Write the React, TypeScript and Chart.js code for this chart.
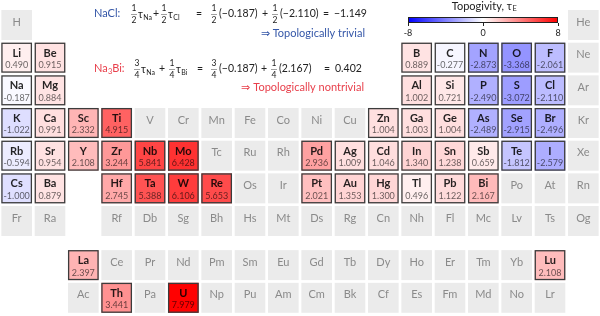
import React, { useEffect, useRef } from "react";
import { Chart, registerables } from "chart.js";

Chart.register(...registerables);

// Periodic table layout: 18 slots per row, "-" = empty slot
const tableRows = [
  "H - - - - - - - - - - - - - - - - He",
  "Li Be - - - - - - - - - - B C N O F Ne",
  "Na Mg - - - - - - - - - - Al Si P S Cl Ar",
  "K Ca Sc Ti V Cr Mn Fe Co Ni Cu Zn Ga Ge As Se Br Kr",
  "Rb Sr Y Zr Nb Mo Tc Ru Rh Pd Ag Cd In Sn Sb Te I Xe",
  "Cs Ba - Hf Ta W Re Os Ir Pt Au Hg Tl Pb Bi Po At Rn",
  "Fr Ra - Rf Db Sg Bh Hs Mt Ds Rg Cn Nh Fl Mc Lv Ts Og",
  "- - La Ce Pr Nd Pm Sm Eu Gd Tb Dy Ho Er Tm Yb Lu -",
  "- - Ac Th Pa U Np Pu Am Cm Bk Cf Es Fm Md No Lr -",
];

const measuredSymbols = [
  "Li", "Be", "B", "C", "N", "O", "F",
  "Na", "Mg", "Al", "Si", "P", "S", "Cl",
  "K", "Ca", "Sc", "Ti", "Zn", "Ga", "Ge", "As", "Se", "Br",
  "Rb", "Sr", "Y", "Zr", "Nb", "Mo", "Pd", "Ag", "Cd", "In", "Sn", "Sb", "Te", "I",
  "Cs", "Ba", "Hf", "Ta", "W", "Re", "Pt", "Au", "Hg", "Tl", "Pb", "Bi",
  "La", "Lu", "Th", "U",
];

const topogivityValues = [
  0.49, 0.915, 0.889, -0.277, -2.873, -3.368, -2.061,
  -0.187, 0.884, 1.002, 0.721, -2.49, -3.072, -2.11,
  -1.022, 0.991, 2.332, 4.915, 1.004, 1.003, 1.004, -2.489, -2.915, -2.496,
  -0.594, 0.954, 2.108, 3.244, 5.841, 6.428, 2.936, 1.009, 1.046, 1.34, 1.238, 0.659, -1.812, -2.579,
  -1.0, 0.879, 2.745, 5.388, 6.106, 5.653, 2.021, 1.353, 1.3, 0.496, 1.122, 2.167,
  2.397, 2.108, 3.441, 7.979,
];

const colorbarTicks = [-8, 0, 8];
const colorMin = -8;
const colorMax = 8;

const FONT = "Lato, 'Noto Sans', sans-serif";
const BLUE_TXT = "#3557a8";
const RED_TXT = "#e8404c";
const FSIZE = 10.5;

function bwr(v: number): string {
  const s = Math.max(-1, Math.min(1, v / colorMax));
  if (s >= 0) {
    const g = Math.round(255 * (1 - s));
    return `rgb(255,${g},${g})`;
  }
  const r = Math.round(255 * (1 + s));
  return `rgb(${r},${r},255)`;
}

type Cell = { symbol: string; group: number; row: number; value: number | null };

function buildCells(): Cell[] {
  const cells: Cell[] = [];
  tableRows.forEach((line, ri) => {
    line.split(" ").forEach((sym, gi) => {
      if (sym === "-") return;
      const idx = measuredSymbols.indexOf(sym);
      cells.push({
        symbol: sym,
        group: gi + 1,
        row: ri + 1,
        value: idx >= 0 ? topogivityValues[idx] : null,
      });
    });
  });
  return cells;
}

function rowToY(row: number) {
  return row <= 7 ? row : row + 0.35;
}

function drawTau(ctx: CanvasRenderingContext2D, x: number, y: number, sub: string) {
  ctx.font = `${FSIZE}px ${FONT}`;
  ctx.textAlign = "left";
  ctx.textBaseline = "middle";
  ctx.fillText("τ", x, y + 1);
  const w = ctx.measureText("τ").width;
  ctx.font = `7px ${FONT}`;
  ctx.fillText(sub, x + w + 0.3, y + 3.5);
}

function drawFrac(ctx: CanvasRenderingContext2D, cx: number, cy: number, n: string, d: string) {
  ctx.font = `8.5px ${FONT}`;
  ctx.textAlign = "center";
  ctx.textBaseline = "middle";
  ctx.fillText(n, cx, cy - 5.5);
  ctx.fillText(d, cx, cy + 6);
  ctx.save();
  ctx.lineWidth = 0.7;
  ctx.strokeStyle = "#777";
  ctx.beginPath();
  ctx.moveTo(cx - 3, cy + 0.5);
  ctx.lineTo(cx + 3, cy + 0.5);
  ctx.stroke();
  ctx.restore();
}

function drawText(ctx: CanvasRenderingContext2D, s: string, x: number, y: number, align: CanvasTextAlign = "left", size = FSIZE) {
  ctx.font = `${size}px ${FONT}`;
  ctx.textAlign = align;
  ctx.textBaseline = "middle";
  ctx.fillText(s, x, y);
}

type Tok =
  | { t: "text"; s: string; x: number }
  | { t: "frac"; n: string; d: string; x: number }
  | { t: "tau"; sub: string; x: number };

const nacLine: Tok[] = [
  { t: "frac", n: "1", d: "2", x: 134 },
  { t: "tau", sub: "Na", x: 138 },
  { t: "text", s: "+", x: 153 },
  { t: "frac", n: "1", d: "2", x: 164 },
  { t: "tau", sub: "Cl", x: 168 },
  { t: "text", s: "=", x: 196 },
  { t: "frac", n: "1", d: "2", x: 214 },
  { t: "text", s: "(−0.187)", x: 219 },
  { t: "text", s: "+", x: 262 },
  { t: "frac", n: "1", d: "2", x: 275 },
  { t: "text", s: "(−2.110)", x: 280 },
  { t: "text", s: "=", x: 323 },
  { t: "text", s: "−1.149", x: 334 },
];

const nabLine: Tok[] = [
  { t: "frac", n: "3", d: "4", x: 137 },
  { t: "tau", sub: "Na", x: 141 },
  { t: "text", s: "+", x: 159 },
  { t: "frac", n: "1", d: "4", x: 172 },
  { t: "tau", sub: "Bi", x: 176 },
  { t: "text", s: "=", x: 197 },
  { t: "frac", n: "3", d: "4", x: 214 },
  { t: "text", s: "(−0.187)", x: 219 },
  { t: "text", s: "+", x: 261 },
  { t: "frac", n: "1", d: "4", x: 274 },
  { t: "text", s: "(2.167)", x: 279 },
  { t: "text", s: "=", x: 324 },
  { t: "text", s: "0.402", x: 335 },
];

function drawTokens(ctx: CanvasRenderingContext2D, toks: Tok[], y: number) {
  toks.forEach((tk) => {
    ctx.fillStyle = "#222";
    if (tk.t === "text") drawText(ctx, tk.s, tk.x, y);
    else if (tk.t === "frac") drawFrac(ctx, tk.x, y, tk.n, tk.d);
    else drawTau(ctx, tk.x, y, tk.sub);
  });
}

const tablePlugin = {
  id: "periodicTable",
  afterDatasetsDraw(chart: any) {
    const ctx: CanvasRenderingContext2D = chart.ctx;
    const xs = chart.scales.x;
    const ys = chart.scales.y;
    const pitchX = Math.abs(xs.getPixelForValue(1) - xs.getPixelForValue(0));
    const pitchY = Math.abs(ys.getPixelForValue(1) - ys.getPixelForValue(0));
    const w = pitchX - 2.7;
    const h = pitchY - 2.7;
    const meta = chart.getDatasetMeta(0);
    const cells: Cell[] = chart.data.datasets[0].cells;
    ctx.save();
    meta.data.forEach((pt: any, i: number) => {
      const c = cells[i];
      const cx = pt.x;
      const cy = pt.y;
      const x0 = cx - w / 2;
      const y0 = cy - h / 2;
      if (c.value === null) {
        ctx.fillStyle = "#ebebeb";
        ctx.fillRect(x0, y0, w, h);
        ctx.fillStyle = "#8a8a8a";
        ctx.font = `11px ${FONT}`;
        ctx.textAlign = "center";
        ctx.textBaseline = "middle";
        ctx.fillText(c.symbol, cx, cy - 3);
      } else {
        ctx.fillStyle = bwr(c.value);
        ctx.fillRect(x0, y0, w, h);
        ctx.strokeStyle = "#3c3c3c";
        ctx.lineWidth = 1.3;
        ctx.strokeRect(x0 + 0.6, y0 + 0.6, w - 1.2, h - 1.2);
        ctx.fillStyle = "rgba(0,0,0,0.85)";
        ctx.font = `bold 11px ${FONT}`;
        ctx.textAlign = "center";
        ctx.textBaseline = "middle";
        ctx.fillText(c.symbol, cx, cy - 4.5);
        ctx.fillStyle = "rgba(0,0,0,0.6)";
        ctx.font = `9px ${FONT}`;
        ctx.fillText(c.value.toFixed(3), cx, cy + 7.5);
      }
    });

    // Colorbar
    const bx0 = 408;
    const bx1 = 558;
    const by0 = 17;
    const by1 = 23;
    const grad = ctx.createLinearGradient(bx0, 0, bx1, 0);
    for (let k = 0; k <= 16; k++) {
      const v = colorMin + (k / 16) * (colorMax - colorMin);
      grad.addColorStop(k / 16, bwr(v));
    }
    ctx.fillStyle = grad;
    ctx.fillRect(bx0, by0, bx1 - bx0, by1 - by0);
    ctx.strokeStyle = "#222";
    ctx.lineWidth = 1;
    ctx.strokeRect(bx0 + 0.5, by0 + 0.5, bx1 - bx0 - 1, by1 - by0 - 1);
    colorbarTicks.forEach((t) => {
      const px = bx0 + ((t - colorMin) / (colorMax - colorMin)) * (bx1 - bx0);
      const pxr = Math.round(px) + 0.5;
      ctx.beginPath();
      ctx.moveTo(pxr, by1);
      ctx.lineTo(pxr, by1 + 3);
      ctx.stroke();
      ctx.fillStyle = "#222";
      drawText(ctx, String(t), px, 33, "center", 9);
    });
    ctx.fillStyle = "#222";
    ctx.font = `11px ${FONT}`;
    const title = "Topogivity, τ";
    const tw = ctx.measureText(title).width;
    ctx.font = `7.5px ${FONT}`;
    const sw = ctx.measureText("E").width;
    const tx = 484 - (tw + sw) / 2;
    drawText(ctx, title, tx, 6, "left", 11);
    drawText(ctx, "E", tx + tw + 0.5, 9, "left", 7.5);

    // Formulas
    ctx.fillStyle = BLUE_TXT;
    drawText(ctx, "NaCl:", 94, 13, "left", 11);
    drawTokens(ctx, nacLine, 14);
    ctx.fillStyle = BLUE_TXT;
    drawText(ctx, "⇒ Topologically trivial", 365, 33, "right", 11);

    ctx.fillStyle = RED_TXT;
    ctx.font = `11px ${FONT}`;
    const naw = ctx.measureText("Na").width;
    drawText(ctx, "Na", 94, 68, "left", 11);
    drawText(ctx, "3", 94 + naw + 0.3, 71.5, "left", 7.5);
    drawText(ctx, "Bi:", 94 + naw + 4.5, 68, "left", 11);
    drawTokens(ctx, nabLine, 69);
    ctx.fillStyle = RED_TXT;
    drawText(ctx, "⇒ Topologically nontrivial", 364, 87, "right", 11);
    ctx.restore();
  },
};

export default function App() {
  const ref = useRef<HTMLCanvasElement | null>(null);
  useEffect(() => {
    if (!ref.current) return;
    const cells = buildCells();
    const chart = new Chart(ref.current, {
      type: "scatter",
      data: {
        datasets: [
          {
            data: cells.map((c) => ({ x: c.group, y: rowToY(c.row) })),
            pointRadius: 0,
            pointHoverRadius: 0,
            cells,
          } as any,
        ],
      },
      options: {
        animation: false,
        responsive: false,
        devicePixelRatio: 1,
        layout: { padding: 0 },
        plugins: { legend: { display: false }, tooltip: { enabled: false } },
        scales: {
          x: { type: "linear", min: 0.5, max: 18.5, display: false },
          y: { type: "linear", min: 0.235, max: 9.907, reverse: true, display: false },
        },
      },
      plugins: [tablePlugin],
    });
    return () => chart.destroy();
  }, []);
  return (
    <div style={{ position: "fixed", left: 0, top: 0, width: 600, height: 316, background: "#fff" }}>
      <canvas ref={ref} width={600} height={316} />
    </div>
  );
}
